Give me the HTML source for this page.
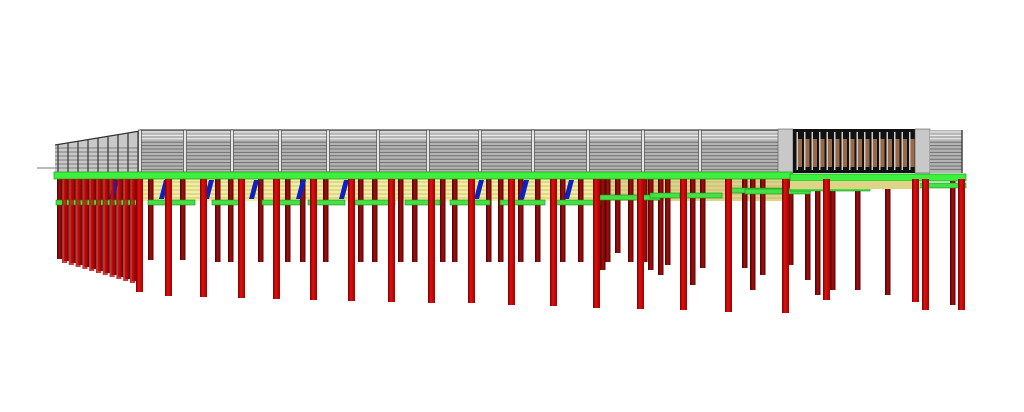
<!DOCTYPE html>
<html><head><meta charset="utf-8"><style>html,body{margin:0;padding:0;background:#fff;width:1024px;height:412px;overflow:hidden}</style></head>
<body>
<svg id="s" width="1024" height="412" viewBox="0 0 1024 412" xmlns="http://www.w3.org/2000/svg">
<defs>
<linearGradient id="pr" x1="0" x2="1"><stop offset="0" stop-color="#7a0000"/><stop offset="0.4" stop-color="#e01010"/><stop offset="1" stop-color="#a00000"/></linearGradient>
<linearGradient id="pd" x1="0" x2="1"><stop offset="0" stop-color="#500000"/><stop offset="0.5" stop-color="#a01010"/><stop offset="1" stop-color="#600000"/></linearGradient>
</defs>
<line x1="37" y1="168" x2="56" y2="168" stroke="#777" stroke-width="1"/>
<g id="back"></g>
<g id="front"></g>
</svg>
<script>
var NS="http://www.w3.org/2000/svg",s=document.getElementById('s');
function el(p,t,a){var e=document.createElementNS(NS,t);for(var k in a)e.setAttribute(k,a[k]);p.appendChild(e);return e;}
var back=document.getElementById('back');
el(back,'rect',{x:58,y:179,width:732,height:22,fill:'#f4eea0'});
el(back,'rect',{x:600,y:179,width:190,height:22,fill:'#ddd488'});
for(var y=182;y<200;y+=4)el(back,'line',{x1:58,y1:y,x2:790,y2:y,stroke:'#b8b070','stroke-width':0.8});
var bp=[[148,260],[180,260],[215,262],[228,262],[258,262],[285,262],[300,262],[323,262],[358,262],[372,262],[398,262],[412,262],[440,262],[452,262],[486,262],[498,262],[518,262],[535,262],[560,262],[578,262],[600,270],[605,262],[615,253],[628,262],[642,262],[648,270],[658,275],[665,265],[690,285],[700,268],[742,268],[750,290],[760,275],[788,265],[805,280],[815,295],[830,290],[855,290],[885,295],[950,305]];
bp.forEach(function(p){el(back,'rect',{x:p[0],y:179,width:5.5,height:p[1]-179,fill:'url(#pd)'});});
for(var i=0;i<12;i++){var x=57+i*6.8;el(back,'rect',{x:x,y:179,width:5,height:80+i*2,fill:'url(#pd)'});}
[160,205,250,297,340,475,520,565,110].forEach(function(x){el(back,'polygon',{points:(x+4)+',180 '+(x+9)+',180 '+(x+4)+',199 '+(x-1)+',199',fill:'#1020c0'});});
var gb=[[56,203,140],[148,203,195],[212,203,240],[262,203,300],[308,203,345],[355,203,395],[405,203,440],[450,203,490],[500,203,545],[555,203,600],[600,198,660],[650,196,680],[680,196,722],[730,191,790],[745,192,810],[790,189,870],[820,186,966]];
gb.forEach(function(b){el(back,'rect',{x:b[0],y:b[1]-3,width:b[2]-b[0],height:5,fill:'#44e044',stroke:'#189018','stroke-width':0.6});});
var f=back;
el(f,'polygon',{points:'55,145 140,131 140,172 55,172',fill:'#c8c8c8'});
for(var y=148;y<172;y+=4)el(f,'line',{x1:55,y1:y,x2:140,y2:y,stroke:'#666','stroke-width':0.8});
for(var x=58;x<140;x+=10)el(f,'line',{x1:x,y1:145-(x-55)*0.165,x2:x,y2:172,stroke:'#333','stroke-width':1.2});
el(f,'line',{x1:55,y1:145,x2:140,y2:131,stroke:'#333','stroke-width':1.2});
el(f,'rect',{x:140,y:130,width:640,height:42,fill:'#b4b4b4'});
for(var y=132;y<172;y+=3.4)el(f,'line',{x1:140,y1:y,x2:780,y2:y,stroke:(y<140?'#f2f2f2':'#6e6e6e'),'stroke-width':1});
el(f,'line',{x1:140,y1:130,x2:780,y2:130,stroke:'#444','stroke-width':1.2});
[140,185,232,280,328,378,428,480,533,588,643,700].forEach(function(x){el(f,'rect',{x:x-1.5,y:130,width:3,height:42,fill:'#e6e6e6',stroke:'#333','stroke-width':0.6});});
el(f,'rect',{x:778,y:129,width:15,height:44,fill:'#c8c8c8',stroke:'#555','stroke-width':0.6});
el(f,'rect',{x:793,y:129,width:122,height:44,fill:'#111'});
for(var x=798;x<912;x+=7.5){el(f,'rect',{x:x,y:139,width:4,height:28,fill:'#9a6a48'});el(f,'rect',{x:x-1.5,y:132,width:1.5,height:38,fill:'#ccc'});}
el(f,'rect',{x:915,y:129,width:15,height:44,fill:'#c8c8c8',stroke:'#555','stroke-width':0.6});
el(f,'rect',{x:930,y:130,width:32,height:43,fill:'#b4b4b4'});
for(var y=132;y<172;y+=3.4)el(f,'line',{x1:930,y1:y,x2:962,y2:y,stroke:(y<140?'#f2f2f2':'#6e6e6e'),'stroke-width':1});
el(f,'line',{x1:962,y1:130,x2:962,y2:173,stroke:'#444','stroke-width':1.5});
el(f,'rect',{x:54,y:172,width:738,height:7,fill:'#3ef03e',stroke:'#1a9a1a','stroke-width':0.7});
el(f,'rect',{x:790,y:174,width:176,height:7,fill:'#3ef03e',stroke:'#1a9a1a','stroke-width':0.7});
el(f,'rect',{x:790,y:181,width:130,height:8,fill:'#ddd488'});
var front=document.getElementById('front');
var fp=[[136,292],[165,296],[200,297],[238,298],[273,299],[310,300],[348,301],[388,302],[428,303],[468,303],[508,305],[550,306],[593,308],[637,309],[680,310],[725,312],[782,313],[823,300],[912,302],[922,310],[958,310]];
fp.forEach(function(p){el(front,'rect',{x:p[0],y:179,width:7,height:p[1]-179,fill:'url(#pr)'});});
for(var i=0;i<11;i++){var x=62+i*6.8;el(front,'rect',{x:x,y:179,width:5,height:84+i*2,fill:'url(#pr)',opacity:0.8});}
</script>
</body></html>
